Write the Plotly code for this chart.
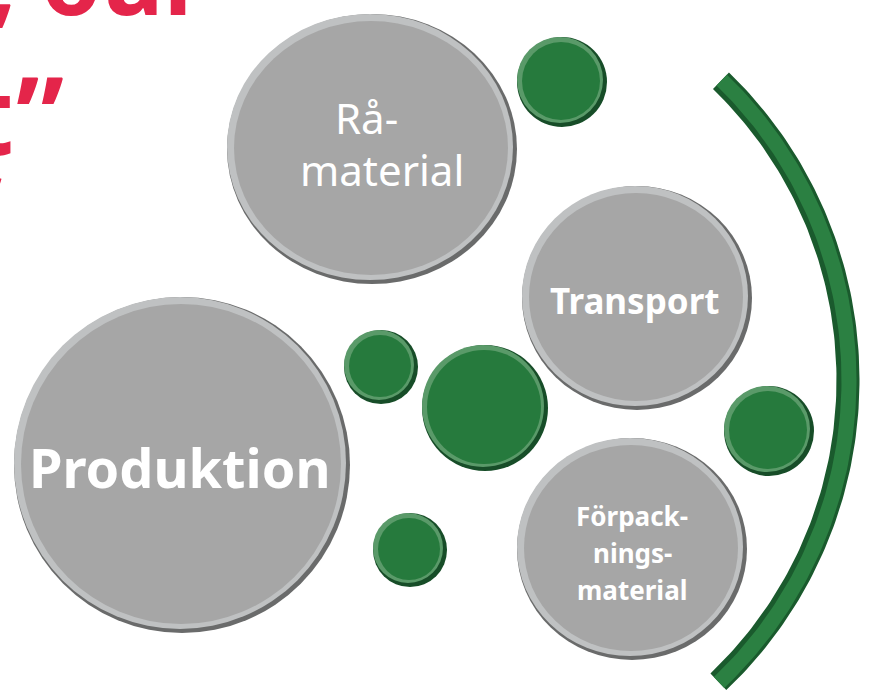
import numpy as np
import plotly.graph_objects as go

# ---- diagram content ----
gray_lines = [["Rå-", "material"], ["Transport"], ["Förpack-", "nings-", "material"], ["Produktion"]]
gray_cx = [372, 637, 632, 182]
gray_cy = [149, 298, 549, 465]
gray_rx = [145, 115, 115, 168]
gray_ry = [135, 112, 111, 168]
gray_font = [42, 35, 26, 54]
gray_bold = [False, True, True, True]

green_cx = [562, 381, 485, 410, 769]
green_cy = [82, 367, 408, 550, 431]
green_r = [45, 37, 63, 37, 45]

red_lines = [", our", "t\u201d", ","]

W, H = 877, 695
fig = go.Figure()

# ---- arc ----
acx, acy, R, th = 432, 380, 416, 23
t = np.linspace(np.radians(-46), np.radians(46.5), 120)
ox = acx + (R + th / 2) * np.cos(t)
oy = acy + (R + th / 2) * np.sin(t)
ix = acx + (R - th / 2) * np.cos(t[::-1])
iy = acy + (R - th / 2) * np.sin(t[::-1])
fig.add_trace(go.Scatter(x=np.r_[ox, ix, ox[0]], y=np.r_[oy, iy, oy[0]],
                         fill="toself", fillcolor="#1a5a2d", line=dict(width=0), mode="lines",
                         hoverinfo="skip"))
ix2 = acx + (R - th / 2 + 5) * np.cos(t[::-1])
iy2 = acy + (R - th / 2 + 5) * np.sin(t[::-1])
ox2 = acx + (R + th / 2 - 3) * np.cos(t)
oy2 = acy + (R + th / 2 - 3) * np.sin(t)
fig.add_trace(go.Scatter(x=np.r_[ox2, ix2, ox2[0]], y=np.r_[oy2, iy2, oy2[0]],
                         fill="toself", fillcolor="#2b8042", line=dict(width=0), mode="lines",
                         hoverinfo="skip"))

shapes = []


def bevel(cx, cy, rx, ry, dark, light, main, w):
    shapes.append(dict(type="circle", xref="x", yref="y", x0=cx - rx, x1=cx + rx,
                       y0=cy - ry, y1=cy + ry, fillcolor=dark, line=dict(width=0)))
    shapes.append(dict(type="circle", xref="x", yref="y", x0=cx - rx, x1=cx + rx - 4,
                       y0=cy - ry, y1=cy + ry - 4, fillcolor=light, line=dict(width=0)))
    shapes.append(dict(type="circle", xref="x", yref="y", x0=cx - rx + w - 1, x1=cx + rx - w - 1,
                       y0=cy - ry + w - 1, y1=cy + ry - w - 1, fillcolor=main, line=dict(width=0)))


for cx, cy, rx, ry in zip(gray_cx, gray_cy, gray_rx, gray_ry):
    bevel(cx, cy, rx, ry, "#6a6b6b", "#bfc1c2", "#a6a6a6", 8)
for cx, cy, r in zip(green_cx, green_cy, green_r):
    bevel(cx, cy, r, r, "#174d28", "#5a9a69", "#267a3d", 6)

annotations = []
line_gap = [52, 0, 37, 0]
x_shift = [[-6, 10], [-2], [0, 0, 0], [-3]]
y_shift = [-6, 2, 4, 2]
for lines, cx, cy, fs, b, gap, xs, ys in zip(gray_lines, gray_cx, gray_cy, gray_font, gray_bold,
                                          line_gap, x_shift, y_shift):
    n = len(lines)
    for k, ln in enumerate(lines):
        txt = f"<b>{ln}</b>" if b else ln
        yy = cy + ys + (k - (n - 1) / 2) * gap
        annotations.append(dict(x=cx + xs[k], y=yy, xref="x", yref="y", text=txt, showarrow=False,
                                font=dict(family="Noto Sans", size=fs, color="white"),
                                xanchor="center", yanchor="middle"))

# red headline fragments (cropped at the picture edge)
red_pos = [(-13, -22, 96), (-35, 113, 108), (-14, 162, 60)]
for txt, (x, y, fs) in zip(red_lines, red_pos):
    annotations.append(dict(x=x / W, y=1 - y / H, xref="paper", yref="paper", text=f"<b>{txt}</b>",
                            showarrow=False,
                            font=dict(family="Noto Sans", size=fs, color="#e4254a"),
                            xanchor="left", yanchor="middle"))

fig.update_layout(width=W, height=H, margin=dict(l=0, r=0, t=0, b=0),
                  paper_bgcolor="white", plot_bgcolor="white", showlegend=False,
                  xaxis=dict(range=[0, W], visible=False, fixedrange=True),
                  yaxis=dict(range=[H, 0], visible=False, fixedrange=True),
                  shapes=shapes, annotations=annotations)
fig.write_html("out.html", config={"displayModeBar": False},
               post_script="document.body.style.margin='0';")
